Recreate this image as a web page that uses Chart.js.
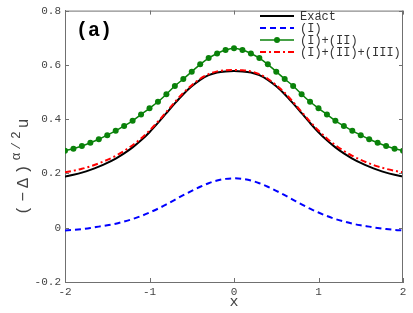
<!DOCTYPE html>
<html>
<head>
<meta charset="utf-8">
<script src="https://cdn.jsdelivr.net/npm/chart.js@4.4.1/dist/chart.umd.min.js"></script>
<style>
  html, body { margin: 0; padding: 0; background: #fff; }
  #wrap { width: 413px; height: 313px; }
</style>
</head>
<body>
<div id="wrap"><canvas id="chart" width="413" height="313"></canvas></div>
<script>
// --- data (x from -2 to 2, step 0.1) ---
const xValues = [-2, -1.9, -1.8, -1.7, -1.6, -1.5, -1.4, -1.3, -1.2, -1.1, -1, -0.9, -0.8, -0.7, -0.6, -0.5, -0.4, -0.3, -0.2, -0.1, 0,
  0.1, 0.2, 0.3, 0.4, 0.5, 0.6, 0.7, 0.8, 0.9, 1, 1.1, 1.2, 1.3, 1.4, 1.5, 1.6, 1.7, 1.8, 1.9, 2];

const exact = [0.188, 0.195, 0.203, 0.213, 0.225, 0.239, 0.255, 0.274, 0.296, 0.322, 0.352, 0.386, 0.422, 0.458, 0.492, 0.521, 0.545, 0.562, 0.572, 0.576, 0.577,
  0.576, 0.572, 0.562, 0.545, 0.521, 0.492, 0.458, 0.422, 0.386, 0.352, 0.322, 0.296, 0.274, 0.255, 0.239, 0.225, 0.213, 0.203, 0.195, 0.188];

const termI = [-0.010, -0.008, -0.005, -0.001, 0.004, 0.009, 0.015, 0.023, 0.032, 0.043, 0.056, 0.070, 0.086, 0.103, 0.120, 0.136, 0.151, 0.164, 0.174, 0.180, 0.182,
  0.180, 0.174, 0.164, 0.151, 0.136, 0.120, 0.103, 0.086, 0.070, 0.056, 0.043, 0.032, 0.023, 0.015, 0.009, 0.004, -0.001, -0.005, -0.008, -0.010];

const termI_II = [0.284, 0.291, 0.301, 0.313, 0.326, 0.341, 0.357, 0.375, 0.394, 0.417, 0.440, 0.464, 0.492, 0.522, 0.548, 0.575, 0.602, 0.625, 0.642, 0.655, 0.661,
  0.655, 0.642, 0.625, 0.602, 0.575, 0.548, 0.522, 0.492, 0.464, 0.440, 0.417, 0.394, 0.375, 0.357, 0.341, 0.326, 0.313, 0.301, 0.291, 0.284];

const termI_II_III = [0.204, 0.210, 0.217, 0.226, 0.237, 0.250, 0.265, 0.283, 0.304, 0.329, 0.358, 0.391, 0.427, 0.463, 0.497, 0.525, 0.549, 0.566, 0.576, 0.580, 0.581,
  0.580, 0.576, 0.566, 0.549, 0.525, 0.497, 0.463, 0.427, 0.391, 0.358, 0.329, 0.304, 0.283, 0.265, 0.250, 0.237, 0.226, 0.217, 0.210, 0.204];

const seriesNames = ['Exact', '(I)', '(I)+(II)', '(I)+(II)+(III)'];
const xTicks = [-2, -1, 0, 1, 2];
const yTicks = [-0.2, 0, 0.2, 0.4, 0.6, 0.8];

const MONO = '"Liberation Mono", "DejaVu Sans Mono", monospace';
const AXIS = '#707070';
const TEXT = '#444';

const toPoints = arr => xValues.map((x, i) => ({ x: x, y: arr[i] }));

// inward tick marks + box on top/right
const boxTicks = {
    id: 'boxTicks',
    afterDatasetsDraw(chart) {
        const { ctx, chartArea: a, scales } = chart;
        ctx.save();
        ctx.strokeStyle = AXIS;
        ctx.lineWidth = 1;
        ctx.beginPath();
        ctx.moveTo(a.left, a.top + 0.5); ctx.lineTo(a.right, a.top + 0.5);
        ctx.moveTo(a.right - 0.5, a.top); ctx.lineTo(a.right - 0.5, a.bottom);
        xTicks.forEach(v => {
            const px = Math.round(scales.x.getPixelForValue(v)) + 0.5;
            ctx.moveTo(px, a.bottom); ctx.lineTo(px, a.bottom - 4);
            ctx.moveTo(px, a.top); ctx.lineTo(px, a.top + 4);
        });
        yTicks.forEach(v => {
            const py = Math.round(scales.y.getPixelForValue(v)) + 0.5;
            ctx.moveTo(a.left, py); ctx.lineTo(a.left + 4, py);
            ctx.moveTo(a.right, py); ctx.lineTo(a.right - 4, py);
        });
        ctx.stroke();
        ctx.restore();
    }
};

// legend, panel label and axis titles
const annotations = {
    id: 'annotations',
    afterDraw(chart) {
        const ctx = chart.ctx;
        ctx.save();

        // legend
        const rows = [16, 28, 40, 52];
        chart.data.datasets.forEach((ds, i) => {
            const y = rows[i];
            ctx.strokeStyle = ds.borderColor;
            ctx.lineWidth = ds.borderWidth;
            ctx.setLineDash(ds.borderDash || []);
            ctx.beginPath();
            ctx.moveTo(260, y); ctx.lineTo(294, y);
            ctx.stroke();
            ctx.setLineDash([]);
            if (ds.pointRadius > 0) {
                ctx.fillStyle = ds.borderColor;
                ctx.beginPath();
                ctx.arc(277, y, ds.pointRadius, 0, Math.PI * 2);
                ctx.fill();
            }
            ctx.fillStyle = '#333';
            ctx.font = '12px ' + MONO;
            ctx.textAlign = 'left';
            ctx.textBaseline = 'middle';
            ctx.fillText(seriesNames[i], 300, y + 1);
        });

        // panel label
        ctx.fillStyle = '#000';
        ctx.font = 'bold 20px ' + MONO;
        ctx.textAlign = 'left';
        ctx.textBaseline = 'middle';
        ctx.fillText('(a)', 76, 31);

        // x title
        ctx.fillStyle = TEXT;
        ctx.font = '15px ' + MONO;
        ctx.textAlign = 'center';
        ctx.textBaseline = 'middle';
        ctx.fillText('x', 234, 302);

        // y title, rotated: (−Δ)^{α/2}u
        ctx.translate(28, 215);
        ctx.rotate(-Math.PI / 2);
        ctx.textAlign = 'left';
        ctx.textBaseline = 'alphabetic';
        ctx.letterSpacing = '4px';
        ctx.font = '16px ' + MONO;
        const main = '(\u2212\u0394)';
        ctx.fillText(main, 0, 0);
        let w = ctx.measureText(main).width;
        ctx.letterSpacing = '3px';
        ctx.font = '13px ' + MONO;
        ctx.fillText('\u03b1/2', w, -8);
        w += ctx.measureText('\u03b1/2').width;
        ctx.letterSpacing = '0px';
        ctx.font = '16px ' + MONO;
        ctx.fillText('u', w, 0);

        ctx.restore();
    }
};

new Chart(document.getElementById('chart'), {
    type: 'line',
    data: {
        datasets: [
            { data: toPoints(exact), borderColor: '#000000', borderWidth: 2, pointRadius: 0, order: 3 },
            { data: toPoints(termI), borderColor: '#0000ff', borderWidth: 2, borderDash: [6, 4], pointRadius: 0, order: 2 },
            { data: toPoints(termI_II), borderColor: '#0a820a', backgroundColor: '#0a820a', borderWidth: 1.5, pointRadius: 3, pointBackgroundColor: '#0a820a', pointBorderWidth: 0, order: 1 },
            { data: toPoints(termI_II_III), borderColor: '#ff0000', borderWidth: 2, borderDash: [6, 3, 2, 3], pointRadius: 0, order: 0 }
        ]
    },
    options: {
        responsive: false,
        animation: false,
        events: [],
        layout: { padding: { top: 9, right: 10, left: 0, bottom: 0 } },
        elements: { line: { cubicInterpolationMode: 'monotone', fill: false } },
        plugins: { legend: { display: false }, tooltip: { enabled: false } },
        scales: {
            x: {
                type: 'linear',
                min: -2, max: 2,
                afterFit: s => { s.height = 31; },
                afterBuildTicks: s => { s.ticks = xTicks.map(v => ({ value: v })); },
                grid: { display: true, drawOnChartArea: false, drawTicks: false },
                border: { display: true, color: AXIS, width: 1 },
                ticks: { color: TEXT, font: { family: MONO, size: 11 }, padding: 3, maxRotation: 0 }
            },
            y: {
                type: 'linear',
                min: -0.2, max: 0.8,
                afterFit: s => { s.width = 65; },
                afterBuildTicks: s => { s.ticks = yTicks.map(v => ({ value: v })); },
                grid: { display: true, drawOnChartArea: false, drawTicks: false },
                border: { display: true, color: AXIS, width: 1 },
                ticks: {
                    color: TEXT, font: { family: MONO, size: 11 }, padding: 4,
                    callback: v => (Math.abs(v) < 1e-9 ? '0' : (Math.round(v * 10) / 10).toFixed(1))
                }
            }
        }
    },
    plugins: [boxTicks, annotations]
});
</script>
</body>
</html>
